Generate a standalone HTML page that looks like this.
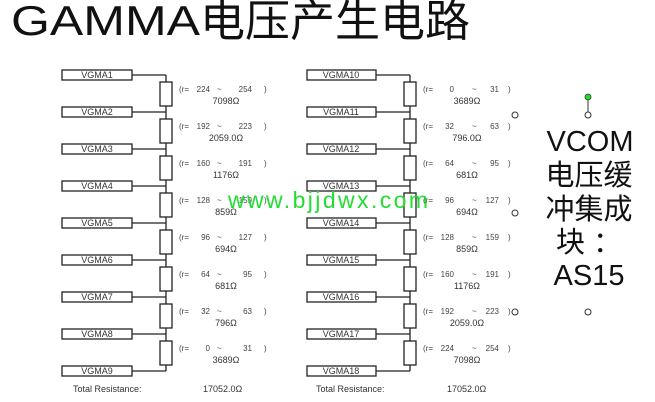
<!DOCTYPE html>
<html><head><meta charset="utf-8"><style>html,body{margin:0;padding:0;background:#fff}svg{display:block}</style></head><body>
<svg width="655" height="402" viewBox="0 0 655 402" xmlns="http://www.w3.org/2000/svg" font-family="Liberation Sans, sans-serif">
<rect width="655" height="402" fill="#fff"/>
<text x="11" y="35" font-size="42" fill="#111" textLength="189" lengthAdjust="spacingAndGlyphs">GAMMA</text>
<text x="200" y="36" font-size="44" fill="#111" font-family="Liberation Sans, Noto Sans CJK SC, sans-serif" textLength="270" lengthAdjust="spacingAndGlyphs">电压产生电路</text>
<g stroke="#222" stroke-width="1.3" fill="#fff">
<line x1="166" y1="75" x2="166" y2="371"/>
<line x1="132" y1="75" x2="166" y2="75"/><line x1="132" y1="112" x2="166" y2="112"/><line x1="132" y1="149" x2="166" y2="149"/><line x1="132" y1="186" x2="166" y2="186"/><line x1="132" y1="223" x2="166" y2="223"/><line x1="132" y1="260" x2="166" y2="260"/><line x1="132" y1="297" x2="166" y2="297"/><line x1="132" y1="334" x2="166" y2="334"/><line x1="132" y1="371" x2="166" y2="371"/>
<rect x="62" y="70" width="70" height="10"/><rect x="62" y="107" width="70" height="10"/><rect x="62" y="144" width="70" height="10"/><rect x="62" y="181" width="70" height="10"/><rect x="62" y="218" width="70" height="10"/><rect x="62" y="255" width="70" height="10"/><rect x="62" y="292" width="70" height="10"/><rect x="62" y="329" width="70" height="10"/><rect x="62" y="366" width="70" height="10"/>
<rect x="160" y="82" width="12" height="24"/><rect x="160" y="119" width="12" height="24"/><rect x="160" y="156" width="12" height="24"/><rect x="160" y="193" width="12" height="24"/><rect x="160" y="230" width="12" height="24"/><rect x="160" y="267" width="12" height="24"/><rect x="160" y="304" width="12" height="24"/><rect x="160" y="341" width="12" height="24"/>
<line x1="410" y1="75" x2="410" y2="371"/>
<line x1="376" y1="75" x2="410" y2="75"/><line x1="376" y1="112" x2="410" y2="112"/><line x1="376" y1="149" x2="410" y2="149"/><line x1="376" y1="186" x2="410" y2="186"/><line x1="376" y1="223" x2="410" y2="223"/><line x1="376" y1="260" x2="410" y2="260"/><line x1="376" y1="297" x2="410" y2="297"/><line x1="376" y1="334" x2="410" y2="334"/><line x1="376" y1="371" x2="410" y2="371"/>
<rect x="307" y="70" width="69" height="10"/><rect x="307" y="107" width="69" height="10"/><rect x="307" y="144" width="69" height="10"/><rect x="307" y="181" width="69" height="10"/><rect x="307" y="218" width="69" height="10"/><rect x="307" y="255" width="69" height="10"/><rect x="307" y="292" width="69" height="10"/><rect x="307" y="329" width="69" height="10"/><rect x="307" y="366" width="69" height="10"/>
<rect x="404" y="82" width="12" height="24"/><rect x="404" y="119" width="12" height="24"/><rect x="404" y="156" width="12" height="24"/><rect x="404" y="193" width="12" height="24"/><rect x="404" y="230" width="12" height="24"/><rect x="404" y="267" width="12" height="24"/><rect x="404" y="304" width="12" height="24"/><rect x="404" y="341" width="12" height="24"/>
</g>
<g font-size="9" fill="#333" text-anchor="middle">
<text x="97" y="78">VGMA1</text><text x="97" y="115">VGMA2</text><text x="97" y="152">VGMA3</text><text x="97" y="189">VGMA4</text><text x="97" y="226">VGMA5</text><text x="97" y="263">VGMA6</text><text x="97" y="300">VGMA7</text><text x="97" y="337">VGMA8</text><text x="97" y="374">VGMA9</text>
<text x="341" y="78">VGMA10</text><text x="341" y="115">VGMA11</text><text x="341" y="152">VGMA12</text><text x="341" y="189">VGMA13</text><text x="341" y="226">VGMA14</text><text x="341" y="263">VGMA15</text><text x="341" y="300">VGMA16</text><text x="341" y="337">VGMA17</text><text x="341" y="374">VGMA18</text>
</g>
<!-- range labels: left column -->
<g font-size="8" fill="#444">
<text x="179" y="92">(r=</text><text x="179" y="129">(r=</text><text x="179" y="166">(r=</text><text x="179" y="203">(r=</text><text x="179" y="240">(r=</text><text x="179" y="277">(r=</text><text x="179" y="314">(r=</text><text x="179" y="351">(r=</text>
<text x="423" y="92">(r=</text><text x="423" y="129">(r=</text><text x="423" y="166">(r=</text><text x="423" y="203">(r=</text><text x="423" y="240">(r=</text><text x="423" y="277">(r=</text><text x="423" y="314">(r=</text><text x="423" y="351">(r=</text>
</g>
<g font-size="8" fill="#444" text-anchor="end">
<text x="210" y="92">224</text><text x="210" y="129">192</text><text x="210" y="166">160</text><text x="210" y="203">128</text><text x="210" y="240">96</text><text x="210" y="277">64</text><text x="210" y="314">32</text><text x="210" y="351">0</text>
<text x="252" y="92">254</text><text x="252" y="129">223</text><text x="252" y="166">191</text><text x="252" y="203">159</text><text x="252" y="240">127</text><text x="252" y="277">95</text><text x="252" y="314">63</text><text x="252" y="351">31</text>
<text x="454" y="92">0</text><text x="454" y="129">32</text><text x="454" y="166">64</text><text x="454" y="203">96</text><text x="454" y="240">128</text><text x="454" y="277">160</text><text x="454" y="314">192</text><text x="454" y="351">224</text>
<text x="499" y="92">31</text><text x="499" y="129">63</text><text x="499" y="166">95</text><text x="499" y="203">127</text><text x="499" y="240">159</text><text x="499" y="277">191</text><text x="499" y="314">223</text><text x="499" y="351">254</text>
</g>
<g font-size="8" fill="#444">
<text x="217" y="92">~</text><text x="217" y="129">~</text><text x="217" y="166">~</text><text x="217" y="203">~</text><text x="217" y="240">~</text><text x="217" y="277">~</text><text x="217" y="314">~</text><text x="217" y="351">~</text>
<text x="264" y="92">)</text><text x="264" y="129">)</text><text x="264" y="166">)</text><text x="264" y="203">)</text><text x="264" y="240">)</text><text x="264" y="277">)</text><text x="264" y="314">)</text><text x="264" y="351">)</text>
<text x="472" y="92">~</text><text x="472" y="129">~</text><text x="472" y="166">~</text><text x="472" y="203">~</text><text x="472" y="240">~</text><text x="472" y="277">~</text><text x="472" y="314">~</text><text x="472" y="351">~</text>
<text x="508" y="92">)</text><text x="508" y="129">)</text><text x="508" y="166">)</text><text x="508" y="203">)</text><text x="508" y="240">)</text><text x="508" y="277">)</text><text x="508" y="314">)</text><text x="508" y="351">)</text>
</g>
<g font-size="9" fill="#333" text-anchor="middle">
<text x="226" y="104">7098Ω</text><text x="226" y="141">2059.0Ω</text><text x="226" y="178">1176Ω</text><text x="226" y="215">859Ω</text><text x="226" y="252">694Ω</text><text x="226" y="289">681Ω</text><text x="226" y="326">796Ω</text><text x="226" y="363">3689Ω</text>
<text x="467" y="104">3689Ω</text><text x="467" y="141">796.0Ω</text><text x="467" y="178">681Ω</text><text x="467" y="215">694Ω</text><text x="467" y="252">859Ω</text><text x="467" y="289">1176Ω</text><text x="467" y="326">2059.0Ω</text><text x="467" y="363">7098Ω</text>
</g>
<g font-size="9" fill="#333">
<text x="73" y="392">Total Resistance:</text><text x="203" y="392">17052.0Ω</text>
<text x="316" y="392">Total Resistance:</text><text x="447" y="392">17052.0Ω</text>
</g>
<text x="228" y="208" font-size="23" fill="#22dd33" font-family="Liberation Sans, sans-serif" textLength="200" lengthAdjust="spacing">www.bjjdwx.com</text>
<g fill="#fff" stroke="#333" stroke-width="1">
<circle cx="515" cy="115" r="3"/><circle cx="515" cy="213" r="3"/><circle cx="515" cy="312" r="3"/><circle cx="588" cy="115" r="3"/><circle cx="588" cy="312" r="3"/>
</g>
<line x1="588" y1="99" x2="588" y2="112" stroke="#333" stroke-width="1"/>
<circle cx="588" cy="97" r="3" fill="#22dd22" stroke="#333" stroke-width="0.8"/>
<g font-size="29" fill="#111" text-anchor="middle" font-family="Liberation Sans, Noto Sans CJK SC, sans-serif">
<text x="590" y="151">VCOM</text>
<text x="589" y="185">电压缓</text>
<text x="589" y="219">冲集成</text>
<text x="589" y="252">块 ：</text>
<text x="589" y="285">AS15</text>
</g>
</svg>
</body></html>
